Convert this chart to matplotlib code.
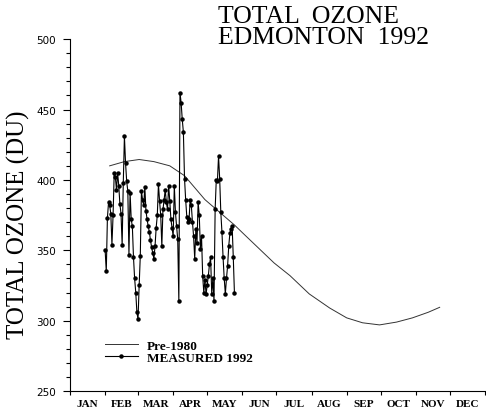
import numpy as np
import matplotlib
matplotlib.use('Agg')
import matplotlib.pyplot as plt
from matplotlib.ticker import FixedLocator, NullFormatter, MultipleLocator

# month boundaries (day of year) and names
month_edges = [0, 31, 60, 91, 121, 152, 182, 213, 244, 274, 305, 335, 366]
month_names = ['JAN', 'FEB', 'MAR', 'APR', 'MAY', 'JUN',
               'JUL', 'AUG', 'SEP', 'OCT', 'NOV', 'DEC']

# pre-1980 climatology (day of year, DU)
clim_day = [35, 48, 61, 74, 88, 101, 119, 132, 145, 154, 167, 180,
            194, 211, 229, 244, 258, 273, 288, 302, 316, 326]
clim_val = [410, 413, 414.5, 413, 410, 403, 386, 377, 368, 361, 351, 341,
            332, 319, 309, 302, 298.5, 297, 299, 302, 306, 309.5]

# measured 1992 daily values
meas_day = list(range(31, 146))
meas_val = [350, 335, 373, 384, 382, 376, 354, 375, 405, 402,
            393, 405, 396, 383, 376, 354, 398, 431, 412, 399,
            392, 347, 391, 372, 367, 345, 330, 320, 306, 301,
            325, 346, 392, 386, 382, 395, 378, 372, 367, 363,
            357, 352, 348, 344, 353, 366, 375, 397, 385, 375,
            353, 379, 386, 393, 384, 379, 396, 385, 372, 366,
            360, 396, 377, 367, 358, 314, 462, 455, 443, 434,
            401, 386, 374, 370, 372, 386, 382, 370, 360, 344,
            365, 355, 384, 375, 351, 360, 332, 320, 329, 319,
            325, 332, 340, 345, 319, 330, 314, 379, 400, 399,
            417, 401, 377, 363, 345, 330, 319, 330, 339, 353,
            362, 365, 367, 345, 320]

serif = ['Liberation Serif', 'DejaVu Serif']

fig = plt.figure(figsize=(4.86, 4.14), dpi=100)
ax = fig.add_axes([0.144, 0.053, 0.854, 0.850])

ax.plot(clim_day, clim_val, color='#333333', lw=0.7, label='Pre-1980')
ax.plot(meas_day, meas_val, color='black', lw=0.8, ls='-', marker='o',
        ms=2.2, label='MEASURED 1992')

ax.set_xlim(0, 366)
ax.set_ylim(250, 500)

# x axis: ticks on month edges, labels mid-month
ax.xaxis.set_major_locator(FixedLocator(month_edges))
ax.xaxis.set_major_formatter(NullFormatter())
mids = [(month_edges[i] + month_edges[i + 1]) / 2 for i in range(12)]
ax.xaxis.set_minor_locator(FixedLocator(mids))
ax.set_xticklabels(month_names, minor=True)
ax.tick_params(axis='x', which='major', direction='out', length=3, width=0.8)
ax.tick_params(axis='x', which='minor', length=0, pad=6)
for lab in ax.get_xticklabels(minor=True):
    lab.set_fontfamily(serif)
    lab.set_fontweight('bold')
    lab.set_fontsize(8)

# y axis
ax.yaxis.set_major_locator(MultipleLocator(50))
ax.yaxis.set_minor_locator(MultipleLocator(10))
ax.tick_params(axis='y', which='major', direction='out', length=5, width=0.8,
               labelsize=7.5, pad=5)
ax.tick_params(axis='y', which='minor', direction='out', length=3, width=0.8)

for s in ['top', 'right']:
    ax.spines[s].set_visible(False)
for s in ['left', 'bottom']:
    ax.spines[s].set_linewidth(0.8)

ax.set_ylabel('TOTAL OZONE (DU)', fontfamily=serif, fontsize=18)
ax.yaxis.set_label_coords(-0.097, 0.475)

fig.text(0.448, 0.985, 'TOTAL  OZONE\nEDMONTON  1992', fontfamily=serif,
         fontsize=18.5, ha='left', va='top', linespacing=0.9)

leg = ax.legend(loc='lower left', bbox_to_anchor=(0.068, 0.058), frameon=False,
                prop={'family': serif, 'weight': 'bold', 'size': 9.5},
                handlelength=2.5, labelspacing=0.0, handletextpad=0.7,
                borderpad=0)

fig.savefig('out.png', dpi=100)
